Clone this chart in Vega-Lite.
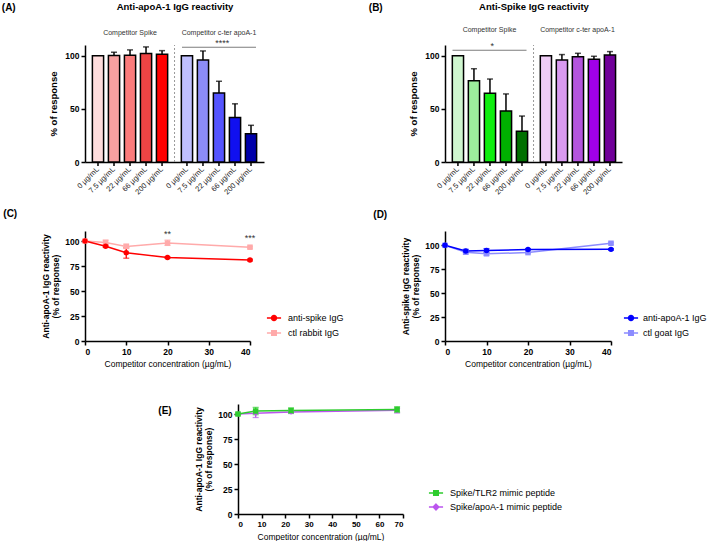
{
  "$schema": "https://vega.github.io/schema/vega-lite/v6.json",
  "padding": {"left": 1, "top": 1, "right": 0, "bottom": 0},
  "background": "white",
  "config": {
    "font": "Liberation Sans",
    "view": {"stroke": null},
    "axis": {"grid": false, "domainColor": "black", "domainWidth": 1.5, "tickColor": "black", "tickWidth": 1.5, "tickSize": 4, "labelColor": "black", "labelFontWeight": "bold", "labelFontSize": 8.5, "labelPadding": 2, "labelOverlap": false, "titleColor": "black", "titleFontWeight": "bold", "titleFontSize": 9},
    "title": {"fontSize": 10, "fontWeight": "bold", "color": "black"},
    "legend": {"labelFontSize": 9, "labelColor": "black", "padding": 0}
  },
  "resolve": {"scale": {"color": "independent"}, "legend": {"color": "independent"}},
  "datasets": {
    "barsA": [
      {"group": "Competitor Spike", "conc": "0 µg/mL", "key": "A1", "mean": 100, "upper": 100},
      {"group": "Competitor Spike", "conc": "7.5 µg/mL", "key": "A2", "mean": 100.2, "upper": 103.2},
      {"group": "Competitor Spike", "conc": "22 µg/mL", "key": "A3", "mean": 100.3, "upper": 105.4},
      {"group": "Competitor Spike", "conc": "66 µg/mL", "key": "A4", "mean": 101.9, "upper": 108.2},
      {"group": "Competitor Spike", "conc": "200 µg/mL", "key": "A5", "mean": 101.3, "upper": 104.7},
      {"group": "Competitor c-ter apoA-1", "conc": "0 µg/mL", "key": "A6", "mean": 100, "upper": 100},
      {"group": "Competitor c-ter apoA-1", "conc": "7.5 µg/mL", "key": "A7", "mean": 95.9, "upper": 104.4},
      {"group": "Competitor c-ter apoA-1", "conc": "22 µg/mL", "key": "A8", "mean": 64.9, "upper": 75.9},
      {"group": "Competitor c-ter apoA-1", "conc": "66 µg/mL", "key": "A9", "mean": 41.8, "upper": 54.7},
      {"group": "Competitor c-ter apoA-1", "conc": "200 µg/mL", "key": "A10", "mean": 26.6, "upper": 34.5}
    ],
    "barsB": [
      {"group": "Competitor Spike", "conc": "0 µg/mL", "key": "B1", "mean": 100, "upper": 100},
      {"group": "Competitor Spike", "conc": "7.5 µg/mL", "key": "B2", "mean": 76.3, "upper": 87.7},
      {"group": "Competitor Spike", "conc": "22 µg/mL", "key": "B3", "mean": 64.7, "upper": 78},
      {"group": "Competitor Spike", "conc": "66 µg/mL", "key": "B4", "mean": 48, "upper": 64},
      {"group": "Competitor Spike", "conc": "200 µg/mL", "key": "B5", "mean": 29, "upper": 43.2},
      {"group": "Competitor c-ter apoA-1", "conc": "0 µg/mL", "key": "B6", "mean": 100, "upper": 100},
      {"group": "Competitor c-ter apoA-1", "conc": "7.5 µg/mL", "key": "B7", "mean": 95.9, "upper": 101},
      {"group": "Competitor c-ter apoA-1", "conc": "22 µg/mL", "key": "B8", "mean": 99, "upper": 102.2},
      {"group": "Competitor c-ter apoA-1", "conc": "66 µg/mL", "key": "B9", "mean": 96.5, "upper": 99.4},
      {"group": "Competitor c-ter apoA-1", "conc": "200 µg/mL", "key": "B10", "mean": 100.6, "upper": 103.8}
    ],
    "lineC": [
      {"series": "ctl rabbit IgG", "conc": 0, "mean": 100, "lo": 100, "hi": 100},
      {"series": "ctl rabbit IgG", "conc": 5, "mean": 98.6, "lo": 96.6, "hi": 100.8},
      {"series": "ctl rabbit IgG", "conc": 10, "mean": 94.6, "lo": 93.2, "hi": 96.8},
      {"series": "ctl rabbit IgG", "conc": 20, "mean": 97.9, "lo": 95.6, "hi": 100.9},
      {"series": "ctl rabbit IgG", "conc": 40, "mean": 93.8, "lo": 92.9, "hi": 94.7},
      {"series": "anti-spike IgG", "conc": 0, "mean": 100, "lo": 100, "hi": 100},
      {"series": "anti-spike IgG", "conc": 5, "mean": 94.8, "lo": 93.8, "hi": 95.8},
      {"series": "anti-spike IgG", "conc": 10, "mean": 88.3, "lo": 82.8, "hi": 93.2},
      {"series": "anti-spike IgG", "conc": 20, "mean": 83.4, "lo": 82.6, "hi": 84.2},
      {"series": "anti-spike IgG", "conc": 40, "mean": 80.9, "lo": 80.1, "hi": 81.7}
    ],
    "lineD": [
      {"series": "ctl goat IgG", "conc": 0, "mean": 100, "lo": 100, "hi": 100},
      {"series": "ctl goat IgG", "conc": 5, "mean": 92.8, "lo": 91, "hi": 95},
      {"series": "ctl goat IgG", "conc": 10, "mean": 91.2, "lo": 89.5, "hi": 93.5},
      {"series": "ctl goat IgG", "conc": 20, "mean": 92.4, "lo": 91.6, "hi": 93.2},
      {"series": "ctl goat IgG", "conc": 40, "mean": 102.2, "lo": 101.2, "hi": 103.2},
      {"series": "anti-apoA-1 IgG", "conc": 0, "mean": 100, "lo": 100, "hi": 100},
      {"series": "anti-apoA-1 IgG", "conc": 5, "mean": 94.2, "lo": 92.6, "hi": 95.8},
      {"series": "anti-apoA-1 IgG", "conc": 10, "mean": 94.6, "lo": 92.6, "hi": 96.6},
      {"series": "anti-apoA-1 IgG", "conc": 20, "mean": 95.6, "lo": 94.8, "hi": 96.4},
      {"series": "anti-apoA-1 IgG", "conc": 40, "mean": 95.8, "lo": 95, "hi": 96.6}
    ],
    "lineE": [
      {"series": "Spike/apoA-1 mimic peptide", "conc": 0, "mean": 100, "lo": 100, "hi": 100},
      {"series": "Spike/apoA-1 mimic peptide", "conc": 7.5, "mean": 100.8, "lo": 96.5, "hi": 103},
      {"series": "Spike/apoA-1 mimic peptide", "conc": 22.5, "mean": 102, "lo": 100.5, "hi": 103.5},
      {"series": "Spike/apoA-1 mimic peptide", "conc": 67.5, "mean": 103.8, "lo": 101, "hi": 105.5},
      {"series": "Spike/TLR2 mimic peptide", "conc": 0, "mean": 100, "lo": 99, "hi": 101},
      {"series": "Spike/TLR2 mimic peptide", "conc": 7.5, "mean": 103, "lo": 99.3, "hi": 106.6},
      {"series": "Spike/TLR2 mimic peptide", "conc": 22.5, "mean": 103.5, "lo": 101, "hi": 106},
      {"series": "Spike/TLR2 mimic peptide", "conc": 67.5, "mean": 104.5, "lo": 101.8, "hi": 107.2}
    ]
  },
  "vconcat": [
    {
      "spacing": 12,
      "resolve": {"scale": {"color": "independent"}, "legend": {"color": "independent"}},
      "vconcat": [
        {
          "bounds": "flush",
          "spacing": 181,
          "resolve": {"scale": {"color": "independent"}, "legend": {"color": "independent"}},
          "hconcat": [
            {
              "width": 179, "height": 117,
              "title": {"text": "(A)", "anchor": "start", "frame": "bounds", "dx": -47, "dy": 12, "offset": 0},
              "resolve": {"axis": {"x": "independent"}},
              "layer": [
                {
                  "data": {"name": "barsA"},
                  "mark": {"type": "bar", "stroke": "black", "strokeWidth": 1.5},
                  "encoding": {
                    "x": {"field": "group", "type": "nominal", "scale": {"domain": ["Competitor Spike", "Competitor c-ter apoA-1"], "paddingInner": 0.1, "paddingOuter": 0.056}, "axis": {"orient": "bottom", "labels": false, "ticks": false, "title": null}},
                    "xOffset": {"field": "conc", "type": "nominal", "scale": {"domain": ["0 µg/mL", "7.5 µg/mL", "22 µg/mL", "66 µg/mL", "200 µg/mL"], "paddingInner": 0.3, "paddingOuter": 0.15}},
                    "y": {"field": "mean", "type": "quantitative", "scale": {"domain": [0, 110], "nice": false}, "axis": {"values": [0, 25, 50, 75, 100], "labelExpr": "datum.value % 50 === 0 ? datum.label : ''", "title": "% of response", "titleFontSize": 9.5, "titlePadding": 6}},
                    "color": {"field": "key", "type": "nominal", "scale": {"domain": ["A1","A2","A3","A4","A5","A6","A7","A8","A9","A10"], "range": ["#ffdddd","#f7a0a0","#fa7c7c","#ee4444","#ff0000","#c0c0ff","#8c8cf7","#5555ff","#1010f0","#0000aa"]}, "legend": null}
                  }
                },
                {
                  "data": {"name": "barsA"},
                  "mark": {"type": "rule", "strokeWidth": 1.5, "color": "black"},
                  "encoding": {
                    "x": {"field": "group", "type": "nominal", "axis": null},
                    "xOffset": {"field": "conc", "type": "nominal"},
                    "y": {"datum": 0},
                    "y2": {"datum": -3.8}
                  }
                },
                {
                  "data": {"name": "barsA"},
                  "mark": {"type": "text", "angle": 315, "align": "right", "baseline": "middle", "fontSize": 7.5, "color": "#222"},
                  "encoding": {
                    "x": {"field": "group", "type": "nominal", "axis": null},
                    "xOffset": {"field": "conc", "type": "nominal"},
                    "y": {"datum": -6},
                    "text": {"field": "conc"}
                  }
                },
                {
                  "data": {"name": "barsA"},
                  "transform": [{"filter": "datum.upper > datum.mean"}],
                  "mark": {"type": "rule", "strokeWidth": 1.5, "color": "black"},
                  "encoding": {
                    "x": {"field": "group", "type": "nominal", "axis": {"orient": "top", "domain": false, "ticks": false, "labelAngle": 0, "labelFontWeight": "normal", "labelFontSize": 7, "labelPadding": 10, "labelColor": "#333", "title": "Anti-apoA-1 IgG reactivity", "titleFontSize": 9.5, "titlePadding": 17}},
                    "xOffset": {"field": "conc", "type": "nominal"},
                    "y": {"field": "mean", "type": "quantitative"},
                    "y2": {"field": "upper"}
                  }
                },
                {
                  "data": {"name": "barsA"},
                  "transform": [{"filter": "datum.upper > datum.mean"}],
                  "mark": {"type": "tick", "orient": "horizontal", "size": 6, "thickness": 1.5, "color": "black"},
                  "encoding": {
                    "x": {"field": "group", "type": "nominal", "axis": null},
                    "xOffset": {"field": "conc", "type": "nominal"},
                    "y": {"field": "upper", "type": "quantitative"}
                  }
                },
                {
                  "data": {"values": [{}]},
                  "mark": {"type": "rule", "strokeDash": [2, 2], "color": "#999", "strokeWidth": 1},
                  "encoding": {
                    "x": {"datum": "Competitor Spike", "bandPosition": 1.056, "axis": null},
                    "y": {"datum": 0},
                    "y2": {"datum": 110}
                  }
                },
                {
                  "data": {"values": [{}]},
                  "mark": {"type": "tick", "orient": "horizontal", "size": 74, "thickness": 1, "color": "#444"},
                  "encoding": {
                    "x": {"datum": "Competitor c-ter apoA-1", "bandPosition": 0.54, "axis": null},
                    "y": {"datum": 108}
                  }
                },
                {
                  "data": {"values": [{}]},
                  "mark": {"type": "text", "text": "****", "baseline": "alphabetic", "fontSize": 9, "dy": -1, "color": "#333"},
                  "encoding": {
                    "x": {"datum": "Competitor c-ter apoA-1", "bandPosition": 0.54, "axis": null},
                    "y": {"datum": 108}
                  }
                }
              ]
            },
            {
              "width": 177, "height": 117,
              "title": {"text": "(B)", "anchor": "start", "frame": "bounds", "dx": -40, "dy": 12, "offset": 0},
              "resolve": {"axis": {"x": "independent"}},
              "layer": [
                {
                  "data": {"name": "barsB"},
                  "mark": {"type": "bar", "stroke": "black", "strokeWidth": 1.5},
                  "encoding": {
                    "x": {"field": "group", "type": "nominal", "scale": {"domain": ["Competitor Spike", "Competitor c-ter apoA-1"], "paddingInner": 0.1, "paddingOuter": 0.056}, "axis": {"orient": "bottom", "labels": false, "ticks": false, "title": null}},
                    "xOffset": {"field": "conc", "type": "nominal", "scale": {"domain": ["0 µg/mL", "7.5 µg/mL", "22 µg/mL", "66 µg/mL", "200 µg/mL"], "paddingInner": 0.3, "paddingOuter": 0.15}},
                    "y": {"field": "mean", "type": "quantitative", "scale": {"domain": [0, 110], "nice": false}, "axis": {"values": [0, 25, 50, 75, 100], "labelExpr": "datum.value % 50 === 0 ? datum.label : ''", "title": "% of response", "titleFontSize": 9.5, "titlePadding": 6}},
                    "color": {"field": "key", "type": "nominal", "scale": {"domain": ["B1","B2","B3","B4","B5","B6","B7","B8","B9","B10"], "range": ["#d0f7d0","#9cee9c","#10ee10","#00b000","#007000","#eeccf5","#d99af0","#b455dd","#a000e8","#700099"]}, "legend": null}
                  }
                },
                {
                  "data": {"name": "barsB"},
                  "mark": {"type": "rule", "strokeWidth": 1.5, "color": "black"},
                  "encoding": {
                    "x": {"field": "group", "type": "nominal", "axis": null},
                    "xOffset": {"field": "conc", "type": "nominal"},
                    "y": {"datum": 0},
                    "y2": {"datum": -3.8}
                  }
                },
                {
                  "data": {"name": "barsB"},
                  "mark": {"type": "text", "angle": 315, "align": "right", "baseline": "middle", "fontSize": 7.5, "color": "#222"},
                  "encoding": {
                    "x": {"field": "group", "type": "nominal", "axis": null},
                    "xOffset": {"field": "conc", "type": "nominal"},
                    "y": {"datum": -6},
                    "text": {"field": "conc"}
                  }
                },
                {
                  "data": {"name": "barsB"},
                  "transform": [{"filter": "datum.upper > datum.mean"}],
                  "mark": {"type": "rule", "strokeWidth": 1.5, "color": "black"},
                  "encoding": {
                    "x": {"field": "group", "type": "nominal", "axis": {"orient": "top", "domain": false, "ticks": false, "labelAngle": 0, "labelFontWeight": "normal", "labelFontSize": 7, "labelPadding": 13, "labelColor": "#333", "title": "Anti-Spike IgG reactivity", "titleFontSize": 9.5, "titlePadding": 14}},
                    "xOffset": {"field": "conc", "type": "nominal"},
                    "y": {"field": "mean", "type": "quantitative"},
                    "y2": {"field": "upper"}
                  }
                },
                {
                  "data": {"name": "barsB"},
                  "transform": [{"filter": "datum.upper > datum.mean"}],
                  "mark": {"type": "tick", "orient": "horizontal", "size": 6, "thickness": 1.5, "color": "black"},
                  "encoding": {
                    "x": {"field": "group", "type": "nominal", "axis": null},
                    "xOffset": {"field": "conc", "type": "nominal"},
                    "y": {"field": "upper", "type": "quantitative"}
                  }
                },
                {
                  "data": {"values": [{}]},
                  "mark": {"type": "rule", "strokeDash": [2, 2], "color": "#999", "strokeWidth": 1},
                  "encoding": {
                    "x": {"datum": "Competitor Spike", "bandPosition": 1.056, "axis": null},
                    "y": {"datum": 0},
                    "y2": {"datum": 110}
                  }
                },
                {
                  "data": {"values": [{}]},
                  "mark": {"type": "tick", "orient": "horizontal", "size": 74, "thickness": 1, "color": "#444"},
                  "encoding": {
                    "x": {"datum": "Competitor Spike", "bandPosition": 0.534, "axis": null},
                    "y": {"datum": 105}
                  }
                },
                {
                  "data": {"values": [{}]},
                  "mark": {"type": "text", "text": "*", "baseline": "alphabetic", "fontSize": 9, "dy": -1, "color": "#333"},
                  "encoding": {
                    "x": {"datum": "Competitor Spike", "bandPosition": 0.534, "axis": null},
                    "y": {"datum": 105}
                  }
                }
              ]
            }
          ]
        },
        {
          "bounds": "flush",
          "spacing": 195,
          "resolve": {"scale": {"color": "independent"}, "legend": {"color": "independent"}},
          "hconcat": [
            {
              "width": 165, "height": 110,
              "title": {"text": "(C)", "anchor": "start", "frame": "bounds", "dx": -38, "offset": 11},
              "layer": [
                {
                  "data": {"name": "lineC"},
                  "mark": {"type": "line", "strokeWidth": 1.5},
                  "encoding": {
                    "x": {"field": "conc", "type": "quantitative", "scale": {"domain": [0, 40], "nice": false}, "axis": {"values": [0, 10, 20, 30, 40], "title": "Competitor concentration (µg/mL)", "titleFontWeight": "normal", "titleFontSize": 8.5, "titlePadding": 4}},
                    "y": {"field": "mean", "type": "quantitative", "scale": {"domain": [0, 110], "nice": false}, "axis": {"values": [0, 25, 50, 75, 100], "title": ["Anti-apoA-1 IgG reactivity", "(% of response)"], "titleFontSize": 8.5, "titlePadding": 4}},
                    "color": {"field": "series", "type": "nominal", "scale": {"domain": ["anti-spike IgG", "ctl rabbit IgG"], "range": ["#ff0000", "#ffaaaa"]},
                      "legend": {"orient": "none", "legendX": 181, "legendY": 79, "title": null, "symbolSize": 200, "symbolStrokeWidth": 1.5, "symbolType": "M-1,0H1M-0.35,0A0.35,0.35 0 1,0 0.35,0A0.35,0.35 0 1,0 -0.35,0Z", "labelFontSize": 9, "labelOffset": 6, "rowPadding": 1,
                        "encode": {"symbols": {"update": {
                          "shape": {"signal": "datum.value === 'anti-spike IgG' ? 'M-1,0H1M-0.35,0A0.35,0.35 0 1,0 0.35,0A0.35,0.35 0 1,0 -0.35,0Z' : 'M-1,0H1M-0.32,-0.32H0.32V0.32H-0.32Z'"},
                          "fill": {"signal": "datum.value === 'anti-spike IgG' ? '#ff0000' : '#ffaaaa'"},
                          "stroke": {"signal": "datum.value === 'anti-spike IgG' ? '#ff0000' : '#ffaaaa'"},
                          "opacity": {"value": 1}}}}}}
                  }
                },
                {
                  "data": {"name": "lineC"},
                  "transform": [{"filter": "datum.hi > datum.lo"}],
                  "mark": {"type": "rule", "strokeWidth": 1.3},
                  "encoding": {
                    "x": {"field": "conc", "type": "quantitative", "axis": {"values": [0, 10, 20, 30, 40], "title": "Competitor concentration (µg/mL)", "titleFontWeight": "normal", "titleFontSize": 8.5, "titlePadding": 4}},
                    "y": {"field": "lo", "type": "quantitative", "axis": {"values": [0, 25, 50, 75, 100], "title": ["Anti-apoA-1 IgG reactivity", "(% of response)"], "titleFontSize": 8.5, "titlePadding": 4}},
                    "y2": {"field": "hi"},
                    "color": {"field": "series", "type": "nominal"}
                  }
                },
                {
                  "data": {"name": "lineC"},
                  "transform": [{"filter": "datum.hi > datum.lo"}],
                  "mark": {"type": "tick", "orient": "horizontal", "size": 6, "thickness": 1.3},
                  "encoding": {
                    "x": {"field": "conc", "type": "quantitative", "axis": {"values": [0, 10, 20, 30, 40], "title": "Competitor concentration (µg/mL)", "titleFontWeight": "normal", "titleFontSize": 8.5, "titlePadding": 4}},
                    "y": {"field": "hi", "type": "quantitative", "axis": {"values": [0, 25, 50, 75, 100], "title": ["Anti-apoA-1 IgG reactivity", "(% of response)"], "titleFontSize": 8.5, "titlePadding": 4}},
                    "color": {"field": "series", "type": "nominal"}
                  }
                },
                {
                  "data": {"name": "lineC"},
                  "transform": [{"filter": "datum.hi > datum.lo"}],
                  "mark": {"type": "tick", "orient": "horizontal", "size": 6, "thickness": 1.3},
                  "encoding": {
                    "x": {"field": "conc", "type": "quantitative", "axis": {"values": [0, 10, 20, 30, 40], "title": "Competitor concentration (µg/mL)", "titleFontWeight": "normal", "titleFontSize": 8.5, "titlePadding": 4}},
                    "y": {"field": "lo", "type": "quantitative", "axis": {"values": [0, 25, 50, 75, 100], "title": ["Anti-apoA-1 IgG reactivity", "(% of response)"], "titleFontSize": 8.5, "titlePadding": 4}},
                    "color": {"field": "series", "type": "nominal"}
                  }
                },
                {
                  "data": {"name": "lineC"},
                  "transform": [{"filter": "datum.series === 'ctl rabbit IgG'"}],
                  "mark": {"type": "point", "filled": true, "size": 30, "opacity": 1, "shape": "square"},
                  "encoding": {
                    "x": {"field": "conc", "type": "quantitative", "axis": {"values": [0, 10, 20, 30, 40], "title": "Competitor concentration (µg/mL)", "titleFontWeight": "normal", "titleFontSize": 8.5, "titlePadding": 4}},
                    "y": {"field": "mean", "type": "quantitative", "axis": {"values": [0, 25, 50, 75, 100], "title": ["Anti-apoA-1 IgG reactivity", "(% of response)"], "titleFontSize": 8.5, "titlePadding": 4}},
                    "color": {"field": "series", "type": "nominal"}
                  }
                },
                {
                  "data": {"name": "lineC"},
                  "transform": [{"filter": "datum.series === 'anti-spike IgG'"}],
                  "mark": {"type": "point", "filled": true, "size": 30, "opacity": 1, "shape": "circle"},
                  "encoding": {
                    "x": {"field": "conc", "type": "quantitative", "axis": {"values": [0, 10, 20, 30, 40], "title": "Competitor concentration (µg/mL)", "titleFontWeight": "normal", "titleFontSize": 8.5, "titlePadding": 4}},
                    "y": {"field": "mean", "type": "quantitative", "axis": {"values": [0, 25, 50, 75, 100], "title": ["Anti-apoA-1 IgG reactivity", "(% of response)"], "titleFontSize": 8.5, "titlePadding": 4}},
                    "color": {"field": "series", "type": "nominal"}
                  }
                },
                {
                  "data": {"values": [{"conc": 20, "label": "**"}]},
                  "mark": {"type": "text", "baseline": "alphabetic", "fontSize": 9, "color": "#333"},
                  "encoding": {
                    "x": {"field": "conc", "type": "quantitative", "axis": {"values": [0, 10, 20, 30, 40], "title": "Competitor concentration (µg/mL)", "titleFontWeight": "normal", "titleFontSize": 8.5, "titlePadding": 4}},
                    "y": {"datum": 104, "axis": {"values": [0, 25, 50, 75, 100], "title": ["Anti-apoA-1 IgG reactivity", "(% of response)"], "titleFontSize": 8.5, "titlePadding": 4}},
                    "text": {"field": "label"}
                  }
                },
                {
                  "data": {"values": [{"conc": 40, "label": "***"}]},
                  "mark": {"type": "text", "baseline": "alphabetic", "fontSize": 9, "color": "#333"},
                  "encoding": {
                    "x": {"field": "conc", "type": "quantitative", "axis": {"values": [0, 10, 20, 30, 40], "title": "Competitor concentration (µg/mL)", "titleFontWeight": "normal", "titleFontSize": 8.5, "titlePadding": 4}},
                    "y": {"datum": 100.5, "axis": {"values": [0, 25, 50, 75, 100], "title": ["Anti-apoA-1 IgG reactivity", "(% of response)"], "titleFontSize": 8.5, "titlePadding": 4}},
                    "text": {"field": "label"}
                  }
                }
              ]
            },
            {
              "width": 166, "height": 110,
              "title": {"text": "(D)", "anchor": "start", "frame": "bounds", "dx": -28, "offset": 11},
              "layer": [
                {
                  "data": {"name": "lineD"},
                  "mark": {"type": "line", "strokeWidth": 1.5},
                  "encoding": {
                    "x": {"field": "conc", "type": "quantitative", "scale": {"domain": [0, 40], "nice": false}, "axis": {"values": [0, 10, 20, 30, 40], "title": "Competitor concentration (µg/mL)", "titleFontWeight": "normal", "titleFontSize": 8.5, "titlePadding": 4}},
                    "y": {"field": "mean", "type": "quantitative", "scale": {"domain": [0, 115], "nice": false}, "axis": {"values": [0, 25, 50, 75, 100], "title": ["Anti-spike IgG reactivity", "(% of response)"], "titleFontSize": 8.5, "titlePadding": 4}},
                    "color": {"field": "series", "type": "nominal", "scale": {"domain": ["anti-apoA-1 IgG", "ctl goat IgG"], "range": ["#0000ff", "#8c8cff"]},
                      "legend": {"orient": "none", "legendX": 178, "legendY": 79, "title": null, "symbolSize": 200, "symbolStrokeWidth": 1.5, "symbolType": "M-1,0H1M-0.35,0A0.35,0.35 0 1,0 0.35,0A0.35,0.35 0 1,0 -0.35,0Z", "labelFontSize": 9, "labelOffset": 4, "rowPadding": 1,
                        "encode": {"symbols": {"update": {
                          "shape": {"signal": "datum.value === 'anti-apoA-1 IgG' ? 'M-1,0H1M-0.35,0A0.35,0.35 0 1,0 0.35,0A0.35,0.35 0 1,0 -0.35,0Z' : 'M-1,0H1M-0.32,-0.32H0.32V0.32H-0.32Z'"},
                          "fill": {"signal": "datum.value === 'anti-apoA-1 IgG' ? '#0000ff' : '#8c8cff'"},
                          "stroke": {"signal": "datum.value === 'anti-apoA-1 IgG' ? '#0000ff' : '#8c8cff'"},
                          "opacity": {"value": 1}}}}}}
                  }
                },
                {
                  "data": {"name": "lineD"},
                  "transform": [{"filter": "datum.hi > datum.lo"}],
                  "mark": {"type": "rule", "strokeWidth": 1.3},
                  "encoding": {
                    "x": {"field": "conc", "type": "quantitative", "axis": {"values": [0, 10, 20, 30, 40], "title": "Competitor concentration (µg/mL)", "titleFontWeight": "normal", "titleFontSize": 8.5, "titlePadding": 4}},
                    "y": {"field": "lo", "type": "quantitative", "axis": {"values": [0, 25, 50, 75, 100], "title": ["Anti-spike IgG reactivity", "(% of response)"], "titleFontSize": 8.5, "titlePadding": 4}},
                    "y2": {"field": "hi"},
                    "color": {"field": "series", "type": "nominal"}
                  }
                },
                {
                  "data": {"name": "lineD"},
                  "transform": [{"filter": "datum.hi > datum.lo"}],
                  "mark": {"type": "tick", "orient": "horizontal", "size": 6, "thickness": 1.3},
                  "encoding": {
                    "x": {"field": "conc", "type": "quantitative", "axis": {"values": [0, 10, 20, 30, 40], "title": "Competitor concentration (µg/mL)", "titleFontWeight": "normal", "titleFontSize": 8.5, "titlePadding": 4}},
                    "y": {"field": "hi", "type": "quantitative", "axis": {"values": [0, 25, 50, 75, 100], "title": ["Anti-spike IgG reactivity", "(% of response)"], "titleFontSize": 8.5, "titlePadding": 4}},
                    "color": {"field": "series", "type": "nominal"}
                  }
                },
                {
                  "data": {"name": "lineD"},
                  "transform": [{"filter": "datum.hi > datum.lo"}],
                  "mark": {"type": "tick", "orient": "horizontal", "size": 6, "thickness": 1.3},
                  "encoding": {
                    "x": {"field": "conc", "type": "quantitative", "axis": {"values": [0, 10, 20, 30, 40], "title": "Competitor concentration (µg/mL)", "titleFontWeight": "normal", "titleFontSize": 8.5, "titlePadding": 4}},
                    "y": {"field": "lo", "type": "quantitative", "axis": {"values": [0, 25, 50, 75, 100], "title": ["Anti-spike IgG reactivity", "(% of response)"], "titleFontSize": 8.5, "titlePadding": 4}},
                    "color": {"field": "series", "type": "nominal"}
                  }
                },
                {
                  "data": {"name": "lineD"},
                  "transform": [{"filter": "datum.series === 'ctl goat IgG'"}],
                  "mark": {"type": "point", "filled": true, "size": 30, "opacity": 1, "shape": "square"},
                  "encoding": {
                    "x": {"field": "conc", "type": "quantitative", "axis": {"values": [0, 10, 20, 30, 40], "title": "Competitor concentration (µg/mL)", "titleFontWeight": "normal", "titleFontSize": 8.5, "titlePadding": 4}},
                    "y": {"field": "mean", "type": "quantitative", "axis": {"values": [0, 25, 50, 75, 100], "title": ["Anti-spike IgG reactivity", "(% of response)"], "titleFontSize": 8.5, "titlePadding": 4}},
                    "color": {"field": "series", "type": "nominal"}
                  }
                },
                {
                  "data": {"name": "lineD"},
                  "transform": [{"filter": "datum.series === 'anti-apoA-1 IgG'"}],
                  "mark": {"type": "point", "filled": true, "size": 30, "opacity": 1, "shape": "circle"},
                  "encoding": {
                    "x": {"field": "conc", "type": "quantitative", "axis": {"values": [0, 10, 20, 30, 40], "title": "Competitor concentration (µg/mL)", "titleFontWeight": "normal", "titleFontSize": 8.5, "titlePadding": 4}},
                    "y": {"field": "mean", "type": "quantitative", "axis": {"values": [0, 25, 50, 75, 100], "title": ["Anti-spike IgG reactivity", "(% of response)"], "titleFontSize": 8.5, "titlePadding": 4}},
                    "color": {"field": "series", "type": "nominal"}
                  }
                }
              ]
            }
          ]
        }
      ]
    },
    {
      "bounds": "flush",
      "spacing": 36,
      "resolve": {"scale": {"color": "independent"}, "legend": {"color": "independent"}},
      "hconcat": [
        {
          "width": 117, "height": 20,
          "data": {"values": []},
          "mark": "point",
          "encoding": {}
        },
        {
          "width": 165, "height": 110,
          "title": {"text": "(E)", "anchor": "start", "frame": "bounds", "dx": -36, "dy": 12, "offset": 0},
          "layer": [
            {
              "data": {"name": "lineE"},
              "mark": {"type": "line", "strokeWidth": 1.5},
              "encoding": {
                "x": {"field": "conc", "type": "quantitative", "scale": {"domain": [0, 70], "nice": false}, "axis": {"values": [0, 10, 20, 30, 40, 50, 60, 70], "labelFontSize": 8, "title": "Competitor concentration (µg/mL)", "titleFontWeight": "normal", "titleFontSize": 8.5, "titlePadding": 4}},
                "y": {"field": "mean", "type": "quantitative", "scale": {"domain": [0, 110], "nice": false}, "axis": {"values": [0, 25, 50, 75, 100], "title": ["Anti-apoA-1 IgG reactivity", "(% of response)"], "titleFontSize": 8.5, "titlePadding": 4}},
                "color": {"field": "series", "type": "nominal", "scale": {"domain": ["Spike/TLR2 mimic peptide", "Spike/apoA-1 mimic peptide"], "range": ["#2ecc2e", "#bb55ee"]},
                  "legend": {"orient": "none", "legendX": 190, "legendY": 81, "title": null, "symbolSize": 200, "symbolStrokeWidth": 1.5, "symbolType": "M-1,0H1M-0.32,-0.32H0.32V0.32H-0.32Z", "labelFontSize": 9, "labelOffset": 6, "rowPadding": 0,
                    "encode": {"symbols": {"update": {
                      "shape": {"signal": "datum.value === 'Spike/TLR2 mimic peptide' ? 'M-1,0H1M-0.32,-0.32H0.32V0.32H-0.32Z' : 'M-1,0H1M0,-0.4L0.4,0L0,0.4L-0.4,0Z'"},
                      "fill": {"signal": "datum.value === 'Spike/TLR2 mimic peptide' ? '#2ecc2e' : '#bb55ee'"},
                      "stroke": {"signal": "datum.value === 'Spike/TLR2 mimic peptide' ? '#2ecc2e' : '#bb55ee'"},
                      "opacity": {"value": 1}}}}}}
              }
            },
            {
              "data": {"name": "lineE"},
              "transform": [{"filter": "datum.hi > datum.lo"}],
              "mark": {"type": "rule", "strokeWidth": 1.3},
              "encoding": {
                "x": {"field": "conc", "type": "quantitative", "axis": {"values": [0, 10, 20, 30, 40, 50, 60, 70], "labelFontSize": 8, "title": "Competitor concentration (µg/mL)", "titleFontWeight": "normal", "titleFontSize": 8.5, "titlePadding": 4}},
                "y": {"field": "lo", "type": "quantitative", "axis": {"values": [0, 25, 50, 75, 100], "title": ["Anti-apoA-1 IgG reactivity", "(% of response)"], "titleFontSize": 8.5, "titlePadding": 4}},
                "y2": {"field": "hi"},
                "color": {"field": "series", "type": "nominal"}
              }
            },
            {
              "data": {"name": "lineE"},
              "transform": [{"filter": "datum.hi > datum.lo"}],
              "mark": {"type": "tick", "orient": "horizontal", "size": 6, "thickness": 1.3},
              "encoding": {
                "x": {"field": "conc", "type": "quantitative", "axis": {"values": [0, 10, 20, 30, 40, 50, 60, 70], "labelFontSize": 8, "title": "Competitor concentration (µg/mL)", "titleFontWeight": "normal", "titleFontSize": 8.5, "titlePadding": 4}},
                "y": {"field": "hi", "type": "quantitative", "axis": {"values": [0, 25, 50, 75, 100], "title": ["Anti-apoA-1 IgG reactivity", "(% of response)"], "titleFontSize": 8.5, "titlePadding": 4}},
                "color": {"field": "series", "type": "nominal"}
              }
            },
            {
              "data": {"name": "lineE"},
              "transform": [{"filter": "datum.hi > datum.lo"}],
              "mark": {"type": "tick", "orient": "horizontal", "size": 6, "thickness": 1.3},
              "encoding": {
                "x": {"field": "conc", "type": "quantitative", "axis": {"values": [0, 10, 20, 30, 40, 50, 60, 70], "labelFontSize": 8, "title": "Competitor concentration (µg/mL)", "titleFontWeight": "normal", "titleFontSize": 8.5, "titlePadding": 4}},
                "y": {"field": "lo", "type": "quantitative", "axis": {"values": [0, 25, 50, 75, 100], "title": ["Anti-apoA-1 IgG reactivity", "(% of response)"], "titleFontSize": 8.5, "titlePadding": 4}},
                "color": {"field": "series", "type": "nominal"}
              }
            },
            {
              "data": {"name": "lineE"},
              "transform": [{"filter": "datum.series === 'Spike/apoA-1 mimic peptide'"}],
              "mark": {"type": "point", "filled": true, "size": 30, "opacity": 1, "shape": "diamond"},
              "encoding": {
                "x": {"field": "conc", "type": "quantitative", "axis": {"values": [0, 10, 20, 30, 40, 50, 60, 70], "labelFontSize": 8, "title": "Competitor concentration (µg/mL)", "titleFontWeight": "normal", "titleFontSize": 8.5, "titlePadding": 4}},
                "y": {"field": "mean", "type": "quantitative", "axis": {"values": [0, 25, 50, 75, 100], "title": ["Anti-apoA-1 IgG reactivity", "(% of response)"], "titleFontSize": 8.5, "titlePadding": 4}},
                "color": {"field": "series", "type": "nominal"}
              }
            },
            {
              "data": {"name": "lineE"},
              "transform": [{"filter": "datum.series === 'Spike/TLR2 mimic peptide'"}],
              "mark": {"type": "point", "filled": true, "size": 30, "opacity": 1, "shape": "square"},
              "encoding": {
                "x": {"field": "conc", "type": "quantitative", "axis": {"values": [0, 10, 20, 30, 40, 50, 60, 70], "labelFontSize": 8, "title": "Competitor concentration (µg/mL)", "titleFontWeight": "normal", "titleFontSize": 8.5, "titlePadding": 4}},
                "y": {"field": "mean", "type": "quantitative", "axis": {"values": [0, 25, 50, 75, 100], "title": ["Anti-apoA-1 IgG reactivity", "(% of response)"], "titleFontSize": 8.5, "titlePadding": 4}},
                "color": {"field": "series", "type": "nominal"}
              }
            }
          ]
        }
      ]
    }
  ],
  "spacing": 36
}
